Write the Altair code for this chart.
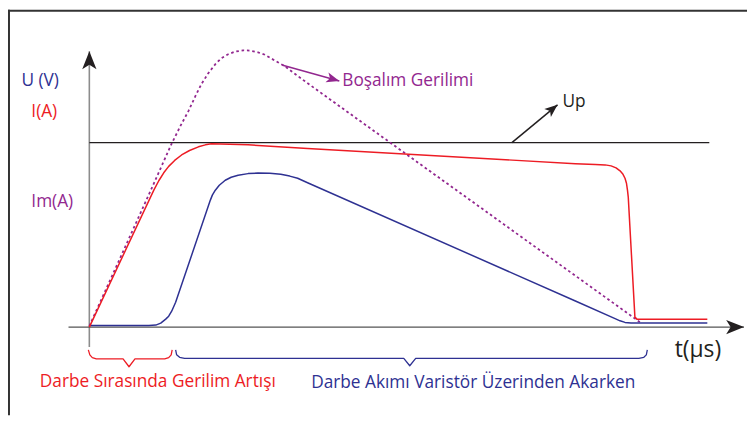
import altair as alt
import pandas as pd

# ---- data (t in µs-like units, v in arbitrary amplitude units) ----
red_t = [0, 13, 14, 15, 16, 17.2, 18.6, 20.2, 22, 23.4, 24.6, 32, 44, 98, 102, 104, 105.2, 106.2,
         107, 107.6, 108, 108.3, 108.5, 108.66, 110, 110.4, 124.6]
red_v = [0, 69, 73.75, 77.75, 81, 84, 86.75, 89, 90.85, 91.85, 92.35, 91.85, 90, 82.35, 82, 81.75,
         81.25, 80.25, 78.75, 77, 75, 72.5, 69, 65.5, 5, 4, 4]

blue_t = [0, 12, 13.4, 14.4, 15.4, 16, 16.6, 17.4, 24.4, 24.8, 25.4, 26.2, 27.4, 28.6, 30, 32, 34,
          36.4, 38.6, 40.4, 42, 44, 98, 106, 107, 108, 109.2, 124.6]
blue_v = [0.75, 0.75, 1, 2, 4, 5.5, 8, 12.5, 64, 66.5, 69, 71.5, 74, 75.5, 76.5, 77.35, 77.65,
          77.5, 77, 76.1, 75, 72.75, 13.15, 4.25, 3.15, 2.35, 2, 2]

dot_t = [0, 12.4, 16.6, 18.4, 20, 21.4, 22.6, 24, 25.4, 26.6, 28, 29.4, 31, 32.4, 34, 35.4, 36.6,
         38, 39.4, 43.4, 111]
dot_v = [0.5, 69, 92.5, 101.5, 109, 116.5, 122.5, 128, 132.5, 135.5, 137.5, 138.85, 139.5, 139.35,
         138.5, 137.25, 135.5, 133.5, 131.5, 124, 2.5]

up_level = 93
up_t = [0, 125]

brace_red_t = [-0.2, 0.1, 0.6, 1.4, 6.8, 8, 9.2, 15.2, 16, 16.5, 16.7]
brace_red_v = [-11.5, -14, -15.4, -16, -16, -20, -16, -16, -15.4, -14, -11.5]
brace_blue_t = [17.4, 17.6, 18.2, 19.2, 63.4, 64.6, 65.8, 110.8, 111.8, 112.3, 112.5]
brace_blue_v = [-11.5, -14, -15.25, -15.75, -15.75, -19.5, -15.75, -15.75, -15.25, -14, -11.5]

yaxis_t = [0, 0]
yaxis_v = [-10, 139]
xaxis_t = [-4.2, 132]
xaxis_v = [0, 0]

up_arrow_t = [85.2, 94.4]
up_arrow_v = [93, 112]
bos_arrow_t = [39, 50.4]
bos_arrow_v = [132, 124]

left_labels = ["U (V)", "I(A)", "Im(A)"]
left_t = [-13.7, -11.7, -11.7]
left_v = [124, 108.2, 63.2]

bottom_labels = ["Darbe Sırasında Gerilim Artışı", "Darbe Akımı Varistör Üzerinden Akarken"]
bottom_t = [13.8, 77.4]
bottom_v = [-27.7, -28]

RED = "#ed1c24"
BLUE = "#2e3192"
PURPLE = "#92278f"
BLACK = "#231f20"
FONT = "Open Sans"
FS = 17.4

W, H = 745, 409
xs = alt.Scale(domain=[-16.4, -16.4 + W / 5], nice=False, zero=False)
ys = alt.Scale(domain=[160 - H / 2, 160], nice=False, zero=False)


def X():
    return alt.X("t:Q", scale=xs, axis=None)


def Y():
    return alt.Y("v:Q", scale=ys, axis=None)


def df(t, v):
    return pd.DataFrame({"t": t, "v": v, "i": range(len(t))})


def line(t, v, color, width=1.5, dash=None):
    kw = dict(color=color, strokeWidth=width, interpolate="linear", strokeCap="butt", strokeJoin="round")
    if dash:
        kw["strokeDash"] = dash
    return alt.Chart(df(t, v)).mark_line(**kw).encode(x=X(), y=Y(), order="i:Q")


ARROW = "M0,0 L0.8,2 L0,1.5 L-0.8,2 Z"


def head(t, v, angle, size, color):
    return alt.Chart(df([t], [v])).mark_point(
        shape=ARROW, filled=True, size=size, angle=angle, color=color, opacity=1, strokeWidth=0
    ).encode(x=X(), y=Y())


def text(labels, t, v, color, size=FS, align="left"):
    d = pd.DataFrame({"t": t, "v": v, "label": labels})
    return alt.Chart(d).mark_text(
        font=FONT, fontSize=size, color=color, align=align, baseline="middle"
    ).encode(x=X(), y=Y(), text="label:N")


frame_top = alt.Chart(df([0], [0])).mark_rule(color="#333333", strokeWidth=2).encode(
    x=alt.value(0), x2=alt.value(W), y=alt.value(1)
)
frame_left = alt.Chart(df([0], [0])).mark_rule(color="#333333", strokeWidth=2).encode(
    x=alt.value(1), y=alt.value(0), y2=alt.value(H)
)

layers = [
    frame_top,
    frame_left,
    line(yaxis_t, yaxis_v, "#8c8c8c", 1.6),
    line(xaxis_t, xaxis_v, "#555555", 1.2),
    head(yaxis_t[1], yaxis_v[1], 0, 324, BLACK),
    head(xaxis_t[1], xaxis_v[1], 90, 324, BLACK),
    line(up_t, [up_level, up_level], BLACK, 1.2),
    line(dot_t, dot_v, PURPLE, 1.8, [2.6, 2.8]),
    line(blue_t, blue_v, BLUE, 1.5),
    line(red_t, red_v, RED, 1.5),
    line(up_arrow_t, up_arrow_v, BLACK, 1.5),
    head(up_arrow_t[1], up_arrow_v[1], 50.4, 169, BLACK),
    line(bos_arrow_t, bos_arrow_v, PURPLE, 1.5),
    head(bos_arrow_t[1], bos_arrow_v[1], 106.6, 169, PURPLE),
    line(brace_red_t, brace_red_v, RED, 1.3),
    line(brace_blue_t, brace_blue_v, BLUE, 1.3),
    text(["Up"], [95.4], [113.2], BLACK),
    text(["Boşalım Gerilimi"], [51], [124], PURPLE),
    text(left_labels[:1], left_t[:1], left_v[:1], BLUE),
    text(left_labels[1:2], left_t[1:2], left_v[1:2], RED),
    text(left_labels[2:], left_t[2:], left_v[2:], PURPLE),
    text(bottom_labels[:1], bottom_t[:1], bottom_v[:1], RED, align="center"),
    text(bottom_labels[1:], bottom_t[1:], bottom_v[1:], BLUE, align="center"),
    text(["t(µs)"], [122.7], [-11.8], BLACK, size=23, align="center"),
]

chart = alt.layer(*layers).properties(
    width=W, height=H, padding=0, autosize=alt.AutoSizeParams(type="none")
).configure_view(stroke=None)

chart.save("out.html", embed_options={"renderer": "svg", "actions": False})
